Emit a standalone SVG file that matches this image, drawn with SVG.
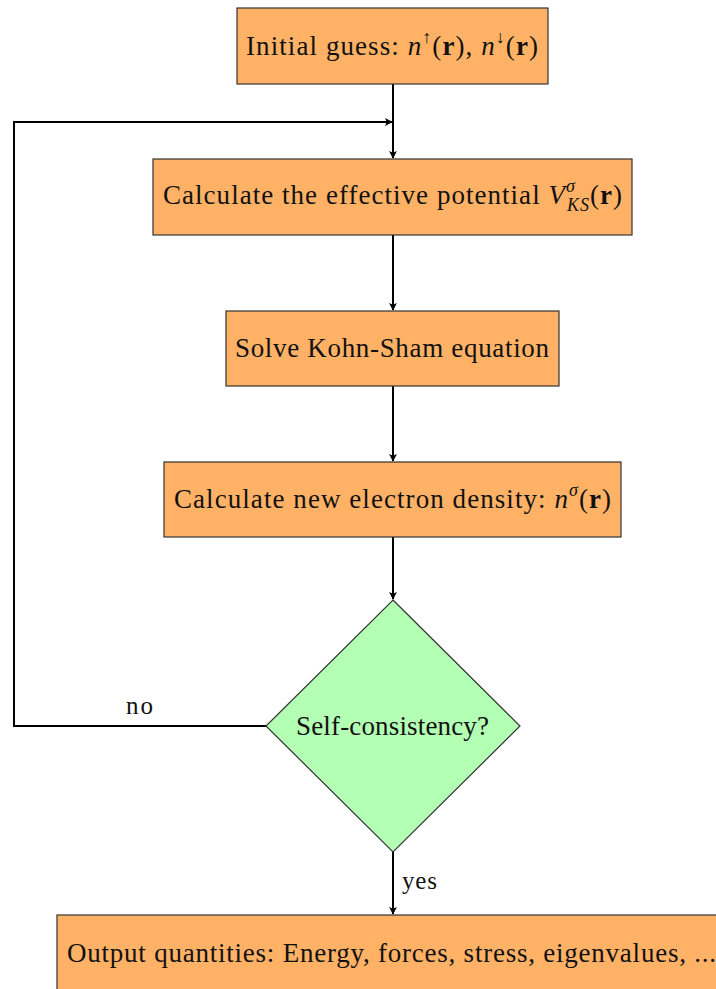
<svg xmlns="http://www.w3.org/2000/svg" width="716" height="989" viewBox="0 0 716 989">
<defs>
<marker id="arr" viewBox="0 0 10 10" refX="9" refY="5" markerWidth="8" markerHeight="8" markerUnits="userSpaceOnUse" orient="auto">
<path d="M0,0 Q4,5 0,10 L10,5 Z" fill="#000"/>
</marker>
<style>
.box{fill:#FFB266;stroke:#333;stroke-width:1.2}
.dia{fill:#B3FFB3;stroke:#333;stroke-width:1.2}
.t{font-family:"Liberation Serif","DejaVu Serif",serif;font-size:27px;fill:#111;text-anchor:middle}
.l{font-family:"Liberation Serif","DejaVu Serif",serif;font-size:25px;fill:#111}
.i{font-style:italic}
.b{font-weight:bold}
.c{fill:none;stroke:#000;stroke-width:2}
</style>
</defs>
<g id="connectors">
<line class="c" x1="393" y1="84" x2="393" y2="158" marker-end="url(#arr)"/>
<polyline class="c" points="266,726 14,726 14,122 392,122" marker-end="url(#arr)"/>
<line class="c" x1="393" y1="235" x2="393" y2="310" marker-end="url(#arr)"/>
<line class="c" x1="393" y1="386" x2="393" y2="461" marker-end="url(#arr)"/>
<line class="c" x1="393" y1="537" x2="393" y2="599" marker-end="url(#arr)"/>
<line class="c" x1="393" y1="852" x2="393" y2="914" marker-end="url(#arr)"/>
<text class="l" x="126" y="714" textLength="27">no</text>
<text class="l" x="402" y="889" textLength="35">yes</text>
</g>
<g id="init">
<rect class="box" x="237" y="8" width="311" height="76"/>
<text class="t" x="392" y="55" textLength="292">Initial guess: <tspan class="i">n</tspan><tspan font-size="18" dy="-12">↑</tspan><tspan dy="12">(</tspan><tspan class="b">r</tspan>), <tspan class="i">n</tspan><tspan font-size="18" dy="-12">↓</tspan><tspan dy="12">(</tspan><tspan class="b">r</tspan>)</text>
</g>
<g id="potential">
<rect class="box" x="153" y="159" width="479" height="76"/>
<text class="t" x="392.5" y="204" textLength="459">Calculate the effective potential <tspan class="i">V</tspan><tspan class="i" font-size="18" dy="-12">σ</tspan><tspan class="i" font-size="18" dx="-9" dy="19">KS</tspan><tspan dy="-7">(</tspan><tspan class="b">r</tspan>)</text>
</g>
<g id="kohnsham">
<rect class="box" x="226" y="311" width="333" height="75"/>
<text class="t" x="392" y="357" textLength="314">Solve Kohn-Sham equation</text>
</g>
<g id="density">
<rect class="box" x="164" y="462" width="457" height="75"/>
<text class="t" x="392.5" y="508" textLength="437">Calculate new electron density: <tspan class="i">n</tspan><tspan class="i" font-size="18" dy="-12">σ</tspan><tspan dy="12">(</tspan><tspan class="b">r</tspan>)</text>
</g>
<g id="selfconsistency">
<polygon class="dia" points="393,600 520,726 393,852 266,726"/>
<text class="t" x="392.5" y="735" textLength="193">Self-consistency?</text>
</g>
<g id="output">
<rect class="box" x="57" y="915" width="670" height="80"/>
<text class="t" x="67" y="962" style="text-anchor:start" textLength="649">Output quantities: Energy, forces, stress, eigenvalues, ...</text>
</g>
</svg>
